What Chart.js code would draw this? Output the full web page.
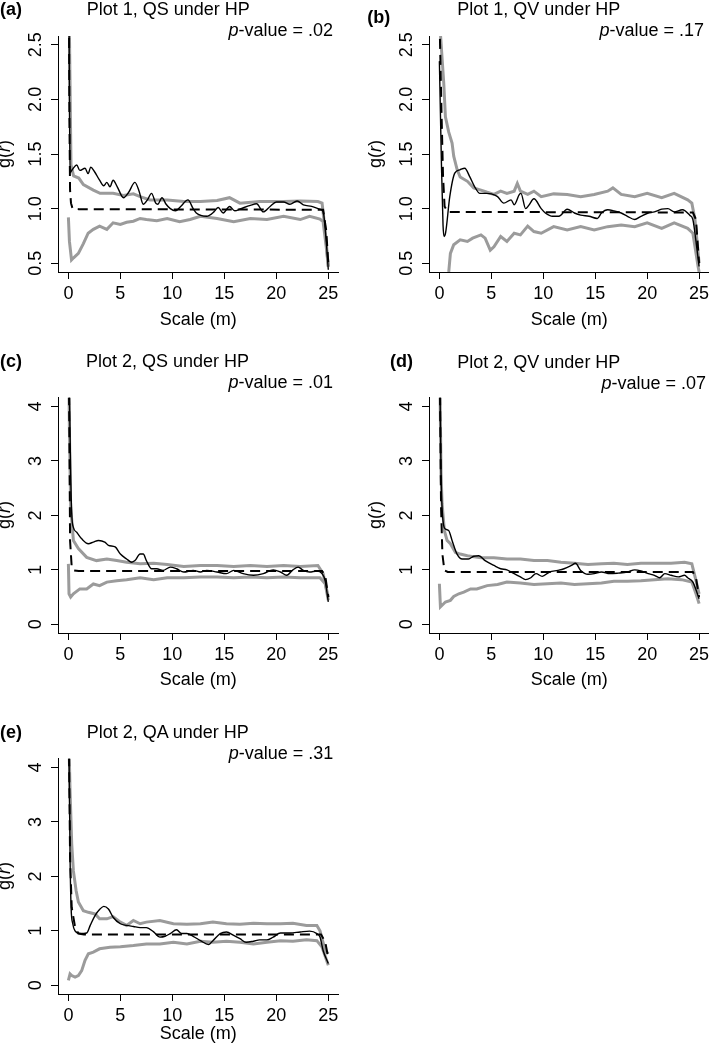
<!DOCTYPE html>
<html><head><meta charset="utf-8">
<script src="https://cdn.jsdelivr.net/npm/chart.js@4.4.1/dist/chart.umd.min.js"></script>
<style>
html,body{margin:0;padding:0;background:#fff;}
body{width:709px;height:1052px;position:relative;overflow:hidden;font-family:"Liberation Sans",Arial,Helvetica,sans-serif;color:#000;}
canvas{position:absolute;}
.t{position:absolute;font-size:18px;line-height:18px;white-space:nowrap;}
.lab{font-weight:bold;}
.yl{position:absolute;font-size:18px;line-height:18px;white-space:nowrap;transform:translate(-50%,-50%) rotate(-90deg);}
</style></head><body>
<script>
const FONT = '"Liberation Sans", Arial, Helvetica, sans-serif';

// ---- tick labels / categories ----
const xTicks = [0, 5, 10, 15, 20, 25];
const yTicksPlot1 = [0.5, 1.0, 1.5, 2.0, 2.5];
const yTicksPlot2 = [0, 1, 2, 3, 4];
const panelLetters = ['(a)', '(b)', '(c)', '(d)', '(e)'];
const panelTitles = ['Plot 1, QS under HP', 'Plot 1, QV under HP', 'Plot 2, QS under HP', 'Plot 2, QV under HP', 'Plot 2, QA under HP'];
const pValues = ['.02', '.17', '.01', '.07', '.31'];
const xTitle = 'Scale (m)';

// ---- series: [scale (m), g(r)] ----
const a_obs = [[0.05,3.0],[0.1,2.0],[0.16,1.33],[0.4,1.36],[0.8,1.40],[1.1,1.35],[1.6,1.37],[1.9,1.32],[2.15,1.38],[2.5,1.34],[3.0,1.26],[3.4,1.21],[3.7,1.24],[4.0,1.20],[4.3,1.26],[4.7,1.20],[5.3,1.10],[5.8,1.15],[6.4,1.24],[6.8,1.16],[7.2,1.04],[7.6,1.08],[8.0,1.14],[8.4,1.05],[8.6,1.04],[9.0,1.10],[9.4,1.04],[9.8,1.00],[10.3,0.98],[10.8,1.02],[11.5,1.08],[12.0,1.00],[12.3,0.96],[13.3,0.93],[14.0,0.97],[14.4,1.01],[14.9,0.96],[15.5,1.02],[16.0,0.98],[16.6,1.00],[17.5,1.03],[18.1,1.045],[18.75,0.97],[19.4,1.02],[20.0,1.06],[20.7,1.06],[21.3,1.04],[22.0,1.07],[22.6,1.035],[23.4,1.02],[24.2,0.995],[24.5,0.975],[24.8,0.70],[25.0,0.44]];
const a_theo = [[0.05,3.0],[0.1,1.8],[0.16,1.17],[0.25,1.05],[0.4,1.0],[1.0,0.995],[24.5,0.99],[24.8,0.8],[25.0,0.5]];
const a_upper = [[0.05,3.0],[0.15,2.2],[0.25,1.4],[0.5,1.30],[1.0,1.28],[1.44,1.22],[2.4,1.17],[3.05,1.14],[4.3,1.14],[5.3,1.12],[6.25,1.135],[6.9,1.11],[7.85,1.08],[9.5,1.08],[11.1,1.065],[12.7,1.065],[14.3,1.075],[15.5,1.10],[16.5,1.05],[18.4,1.065],[20.7,1.065],[22.3,1.07],[24.0,1.065],[24.4,1.05],[24.7,0.8],[25.0,0.47]];
const a_lower = [[0.0,0.92],[0.1,0.7],[0.3,0.53],[0.5,0.55],[0.96,0.59],[1.44,0.68],[1.9,0.775],[2.4,0.81],[3.0,0.84],[3.7,0.81],[4.3,0.87],[5.0,0.855],[5.6,0.875],[6.25,0.885],[6.9,0.91],[7.5,0.90],[8.5,0.89],[9.5,0.91],[10.7,0.88],[11.7,0.90],[12.7,0.93],[14.3,0.91],[15.9,0.88],[17.5,0.91],[19.1,0.90],[20.7,0.93],[22.3,0.90],[23.2,0.93],[24.2,0.905],[24.5,0.88],[24.8,0.65],[25.0,0.47]];

const b_obs = [[0.0,2.35],[0.2,1.4],[0.35,0.85],[0.45,0.745],[0.6,0.78],[1.0,1.11],[1.48,1.325],[1.96,1.355],[2.44,1.37],[2.93,1.29],[3.4,1.20],[3.9,1.14],[4.5,1.14],[5.0,1.135],[5.6,1.11],[6.2,1.05],[6.9,1.08],[7.2,1.035],[7.7,1.13],[7.85,1.14],[8.3,1.0],[8.6,1.03],[9.1,1.09],[9.8,1.0],[10.2,0.96],[10.9,0.93],[11.5,0.93],[12.3,0.995],[13.0,0.96],[13.6,0.94],[14.4,0.93],[15.2,0.91],[15.6,0.96],[16.2,0.99],[16.8,0.98],[17.5,0.96],[18.1,0.93],[18.8,0.90],[19.4,0.93],[20.1,0.96],[20.7,0.97],[21.4,0.995],[22.0,1.0],[22.6,0.97],[23.4,0.99],[24.1,0.94],[24.4,0.90],[24.7,0.70],[25.0,0.47]];
const b_theo = [[0.02,2.7],[0.2,1.9],[0.35,1.3],[0.5,1.02],[0.8,0.97],[24.4,0.965],[24.7,0.9],[25.0,0.5]];
const b_upper = [[0.03,2.7],[0.42,2.15],[0.58,1.84],[0.9,1.70],[1.22,1.60],[1.38,1.48],[1.7,1.36],[2.0,1.29],[2.7,1.25],[3.3,1.19],[4.0,1.17],[4.6,1.15],[5.25,1.13],[5.9,1.16],[6.5,1.14],[7.2,1.16],[7.5,1.23],[7.8,1.16],[8.5,1.13],[9.1,1.16],[9.8,1.11],[11.0,1.135],[12.3,1.13],[13.6,1.11],[14.9,1.13],[16.2,1.16],[16.7,1.19],[17.5,1.13],[18.8,1.11],[20.0,1.14],[21.4,1.10],[22.6,1.14],[23.9,1.08],[24.3,1.05],[24.6,0.9],[25.0,0.5]];
const b_lower = [[0.0,0.1],[0.5,0.2],[0.9,0.42],[1.06,0.59],[1.38,0.67],[2.0,0.715],[2.7,0.70],[3.2,0.73],[4.0,0.76],[4.4,0.73],[4.9,0.62],[5.25,0.65],[5.9,0.745],[6.5,0.70],[7.2,0.775],[7.8,0.76],[8.5,0.84],[9.1,0.79],[9.8,0.775],[11.0,0.835],[12.3,0.805],[13.6,0.835],[14.9,0.805],[16.2,0.835],[17.5,0.85],[18.8,0.835],[20.0,0.87],[21.4,0.82],[22.6,0.87],[23.9,0.82],[24.4,0.775],[24.9,0.47],[25.0,0.42]];

const c_obs = [[0.08,4.5],[0.22,2.76],[0.32,2.03],[0.48,1.78],[0.8,1.69],[1.28,1.57],[1.92,1.48],[2.4,1.51],[2.9,1.54],[3.5,1.51],[3.85,1.45],[4.5,1.42],[5.0,1.29],[5.6,1.20],[6.1,1.14],[6.4,1.17],[6.9,1.29],[7.2,1.29],[7.5,1.17],[8.0,1.02],[8.5,1.02],[9.1,0.99],[9.8,1.05],[10.4,1.02],[11.1,0.96],[12.0,0.99],[12.7,0.96],[13.3,0.99],[14.3,0.96],[15.2,0.93],[15.9,0.99],[16.8,0.93],[17.8,0.90],[18.75,0.93],[19.7,1.0],[20.4,0.96],[21.0,0.90],[21.6,1.0],[22.1,1.05],[22.6,0.99],[23.2,0.96],[23.9,0.98],[24.4,0.93],[24.7,0.80],[25.0,0.41]];
const c_theo = [[0.05,4.5],[0.1,3.37],[0.16,1.54],[0.32,1.05],[0.55,0.99],[1.0,0.977],[24.4,0.977],[24.7,0.9],[25.0,0.5]];
const c_upper = [[0.05,4.5],[0.1,3.55],[0.22,2.15],[0.48,1.54],[0.96,1.39],[1.76,1.23],[2.7,1.17],[3.7,1.20],[4.65,1.17],[5.6,1.14],[6.9,1.11],[8.2,1.12],[9.5,1.10],[11.1,1.06],[12.7,1.08],[14.3,1.08],[15.9,1.06],[17.5,1.08],[19.1,1.06],[20.7,1.08],[22.3,1.06],[24.0,1.08],[24.5,0.93],[25.0,0.5]];
const c_lower = [[0.0,1.11],[0.06,0.56],[0.22,0.50],[0.48,0.56],[1.1,0.65],[1.76,0.65],[2.4,0.74],[3.0,0.71],[3.7,0.775],[4.65,0.80],[5.6,0.82],[6.9,0.855],[8.2,0.82],[9.5,0.855],[11.1,0.855],[12.7,0.87],[14.3,0.87],[15.9,0.855],[17.5,0.87],[19.1,0.855],[20.7,0.87],[22.3,0.855],[24.2,0.855],[24.7,0.745],[25.0,0.44]];

const d_obs = [[0.05,4.5],[0.16,2.76],[0.35,1.90],[0.58,1.75],[0.9,1.72],[1.22,1.54],[1.7,1.29],[2.2,1.20],[2.8,1.20],[3.3,1.25],[3.8,1.26],[4.4,1.17],[5.25,1.08],[5.9,1.02],[6.5,1.0],[7.2,0.93],[7.8,0.87],[8.3,0.82],[8.8,0.855],[9.3,0.93],[9.9,0.88],[10.6,0.96],[11.4,0.99],[12.0,1.02],[12.7,1.08],[13.1,1.12],[13.6,0.99],[14.3,0.92],[14.9,0.93],[15.6,0.96],[16.4,0.93],[17.2,0.94],[18.1,0.96],[18.8,1.0],[19.4,0.98],[20.1,0.93],[20.7,0.90],[21.2,0.855],[21.7,0.93],[22.3,0.90],[23.0,0.87],[23.6,0.90],[23.9,0.855],[24.4,0.775],[25.0,0.47]];
const d_theo = [[0.05,4.5],[0.16,2.15],[0.29,1.29],[0.48,0.99],[0.8,0.96],[24.4,0.96],[24.7,0.85],[25.0,0.5]];
const d_upper = [[0.05,4.5],[0.16,2.76],[0.26,2.21],[0.48,1.72],[0.74,1.54],[1.06,1.48],[1.55,1.32],[2.0,1.29],[2.7,1.26],[4.0,1.22],[5.25,1.22],[6.5,1.20],[7.8,1.20],[9.1,1.17],[10.4,1.17],[11.7,1.14],[13.0,1.12],[14.3,1.10],[15.6,1.11],[16.8,1.12],[18.1,1.10],[19.4,1.12],[20.7,1.12],[22.3,1.12],[23.6,1.14],[24.3,1.11],[24.7,0.80],[25.0,0.56]];
const d_lower = [[0.0,0.745],[0.1,0.32],[0.26,0.35],[0.58,0.41],[1.06,0.44],[1.38,0.51],[1.87,0.56],[2.35,0.59],[3.0,0.65],[3.6,0.65],[4.6,0.71],[5.6,0.73],[6.5,0.775],[7.8,0.76],[9.1,0.73],[10.4,0.745],[11.7,0.76],[13.0,0.73],[14.3,0.745],[15.6,0.76],[16.8,0.79],[18.1,0.79],[19.4,0.80],[20.7,0.82],[22.0,0.835],[23.3,0.82],[24.3,0.775],[24.7,0.56],[25.0,0.38]];

const e_obs = [[0.05,4.5],[0.16,2.35],[0.26,1.43],[0.42,1.13],[0.64,1.0],[1.12,0.95],[1.76,0.96],[2.1,1.10],[2.56,1.28],[3.04,1.40],[3.4,1.45],[3.85,1.40],[4.3,1.25],[5.0,1.13],[5.6,1.10],[6.25,1.08],[6.9,1.06],[7.5,1.06],[8.2,0.98],[8.8,0.885],[9.3,0.90],[9.8,0.95],[10.4,1.02],[10.9,0.95],[11.4,0.95],[12.0,0.90],[12.7,0.82],[13.5,0.75],[13.9,0.82],[14.6,0.95],[15.2,0.98],[15.9,0.915],[16.5,0.855],[17.1,0.79],[17.8,0.81],[18.4,0.835],[19.1,0.835],[19.7,0.885],[20.4,0.96],[21.3,0.96],[22.3,0.98],[23.2,0.995],[23.9,0.95],[24.2,0.885],[24.5,0.64],[25.0,0.40]];
const e_theo = [[0.05,4.5],[0.16,2.35],[0.32,1.43],[0.64,1.07],[0.96,0.95],[1.5,0.935],[24.3,0.935],[24.7,0.8],[25.0,0.5]];
const e_upper = [[0.05,4.5],[0.16,3.57],[0.32,2.60],[0.48,2.10],[0.74,1.74],[0.96,1.53],[1.44,1.37],[1.92,1.34],[2.56,1.31],[3.0,1.22],[3.7,1.22],[4.3,1.26],[5.0,1.16],[5.6,1.10],[6.25,1.19],[6.9,1.13],[7.5,1.16],[8.8,1.19],[10.1,1.13],[11.4,1.12],[12.7,1.13],[13.9,1.16],[15.2,1.13],[16.5,1.12],[17.8,1.14],[19.1,1.13],[20.4,1.13],[21.6,1.14],[22.9,1.10],[23.9,1.10],[24.2,1.0],[24.7,0.64],[25.0,0.58]];
const e_lower = [[0.0,0.09],[0.16,0.21],[0.32,0.18],[0.64,0.15],[0.96,0.18],[1.28,0.27],[1.6,0.46],[1.92,0.58],[2.4,0.61],[3.0,0.67],[4.0,0.70],[5.0,0.71],[6.25,0.73],[7.5,0.76],[8.8,0.76],[10.1,0.79],[11.4,0.76],[12.7,0.81],[13.9,0.79],[15.2,0.81],[16.5,0.79],[17.8,0.76],[19.1,0.79],[20.4,0.82],[21.6,0.81],[22.9,0.835],[23.9,0.82],[24.4,0.70],[25.0,0.37]];

// ---- layout (page pixels) ----
const panels = [
  {obs:a_obs, theo:a_theo, up:a_upper, lo:a_lower, yTicks:yTicksPlot1, ymin:0.42, ymax:2.58, dec:1,
   L:58, R:338.7, T:36, B:272, xTitleOff:48, letter:[0,2.7], title:[86.7,2.7], pv:[333,23.3], ylab:[4,154]},
  {obs:b_obs, theo:b_theo, up:b_upper, lo:b_lower, yTicks:yTicksPlot1, ymin:0.42, ymax:2.58, dec:1,
   L:429, R:709.5, T:36, B:272, xTitleOff:48, letter:[367.3,10.5], title:[457.3,2.7], pv:[704,23.3], ylab:[375,154]},
  {obs:c_obs, theo:c_theo, up:c_upper, lo:c_lower, yTicks:yTicksPlot2, ymin:-0.16, ymax:4.16, dec:0,
   L:58, R:338.7, T:397, B:633, xTitleOff:47, letter:[0,354], title:[86,354], pv:[333,375], ylab:[4,515]},
  {obs:d_obs, theo:d_theo, up:d_upper, lo:d_lower, yTicks:yTicksPlot2, ymin:-0.16, ymax:4.16, dec:0,
   L:429, R:709.5, T:397, B:633, xTitleOff:47, letter:[390,354], title:[457.3,355], pv:[706,376], ylab:[375,515]},
  {obs:e_obs, theo:e_theo, up:e_upper, lo:e_lower, yTicks:yTicksPlot2, ymin:-0.16, ymax:4.16, dec:0,
   L:58, R:338.7, T:758, B:994, xTitleOff:40, letter:[0,725], title:[86.7,725], pv:[333.3,746], ylab:[4,876]}
];

const measureCtx = document.createElement('canvas').getContext('2d');
measureCtx.font = '18px ' + FONT;

function addText(html, cls, css) {
  const d = document.createElement('div');
  d.className = cls;
  d.innerHTML = html;
  Object.assign(d.style, css);
  document.body.appendChild(d);
  return d;
}

const pts = arr => arr.map(p => ({x: p[0], y: p[1]}));

panels.forEach((p, i) => {
  const left = p.L - 58, top = p.T - 20;
  const width = Math.ceil(p.R - left) + 12;
  const height = (p.B - top) + 70;
  const cv = document.createElement('canvas');
  cv.width = width; cv.height = height;
  cv.style.left = left + 'px'; cv.style.top = top + 'px';
  cv.style.width = width + 'px'; cv.style.height = height + 'px';
  document.body.appendChild(cv);

  const labels = p.yTicks.map(v => v.toFixed(p.dec));
  const widest = Math.max(...labels.map(s => measureCtx.measureText(s).width));
  const yPad = 15 - widest / 2;

  const gridOpts = {display:true, drawOnChartArea:false, drawTicks:true, tickLength:7, color:'#000', lineWidth:1};
  const borderOpts = {display:true, color:'#000', width:1};

  new Chart(cv.getContext('2d'), {
    type: 'line',
    data: {
      datasets: [
        {data: pts(p.obs), borderColor:'#000', borderWidth:1.4, pointRadius:0, cubicInterpolationMode:'monotone', fill:false},
        {data: pts(p.theo), borderColor:'#000', borderWidth:2, borderDash:[10,6], pointRadius:0, tension:0, fill:false},
        {data: pts(p.up), borderColor:'#9b9b9b', borderWidth:3, pointRadius:0, tension:0, fill:false},
        {data: pts(p.lo), borderColor:'#9b9b9b', borderWidth:3, pointRadius:0, tension:0, fill:false}
      ]
    },
    options: {
      responsive:false, animation:false, devicePixelRatio:1,
      layout:{padding:{left:0, top:20, right: width - (p.R - left), bottom:0}},
      plugins:{legend:{display:false}, tooltip:{enabled:false}, title:{display:false}},
      scales:{
        x:{type:'linear', min:-1, max:26,
           afterBuildTicks: s => { s.ticks = xTicks.map(v => ({value:v})); },
           afterFit: s => { s.height = 70; },
           grid: gridOpts, border: borderOpts,
           ticks:{color:'#000', font:{family:FONT, size:18}, padding:4.5, minRotation:0, maxRotation:0, autoSkip:false},
           title:{display:true, text:xTitle, color:'#000', font:{family:FONT, size:18}, padding:{top:0, bottom: 70 - p.xTitleOff - 10.8}}},
        y:{type:'linear', min:p.ymin, max:p.ymax,
           afterBuildTicks: s => { s.ticks = p.yTicks.map(v => ({value:v})); },
           afterFit: s => { s.width = 58; },
           grid: gridOpts, border: borderOpts,
           ticks:{color:'#000', font:{family:FONT, size:18}, padding:yPad, minRotation:90, maxRotation:90, crossAlign:'center', autoSkip:false,
                  callback: v => Number(v).toFixed(p.dec)}}
      }
    }
  });

  addText(panelLetters[i], 't lab', {left: p.letter[0] + 'px', top: (p.letter[1] - 2.35) + 'px'});
  addText(panelTitles[i], 't', {left: p.title[0] + 'px', top: (p.title[1] - 2.35) + 'px'});
  addText('<i>p</i>-value = ' + pValues[i], 't', {right: (709 - p.pv[0]) + 'px', top: (p.pv[1] - 2.35) + 'px'});
  addText('g(<i>r</i>)', 'yl', {left: p.ylab[0] + 'px', top: p.ylab[1] + 'px'});
});
</script>
</body></html>
